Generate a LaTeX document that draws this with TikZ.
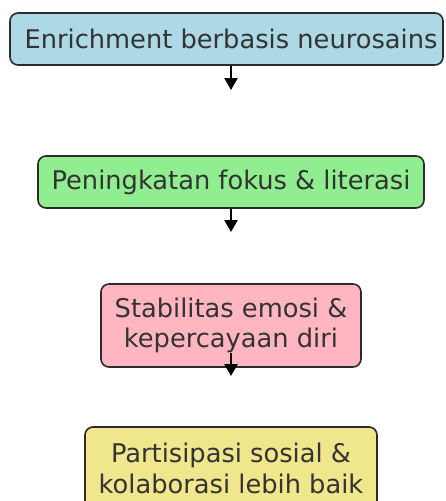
\documentclass[tikz,border=0pt]{standalone}
\usepackage{fontspec}
\setmainfont{DejaVu Sans}
\usetikzlibrary{arrows.meta}
\definecolor{bxblue}{HTML}{ADD8E6}
\definecolor{bxgreen}{HTML}{90EE90}
\definecolor{bxpink}{HTML}{FFB6C1}
\definecolor{bxkhaki}{HTML}{F0E68C}
\definecolor{edgegray}{HTML}{2B2B2B}
\definecolor{txtgray}{HTML}{333333}
\tikzset{
  flowbox/.style={draw=edgegray, line width=1.6pt, rounded corners=8pt,
    text=txtgray, align=center, inner sep=0pt,
    font=\fontsize{25.7pt}{30.5pt}\selectfont},
  arr/.style={-{Triangle[width=13pt,length=12pt]}, line width=2.4pt, black}
}
\begin{document}
\begin{tikzpicture}[x=1pt,y=1pt]
\useasboundingbox (0,0) rectangle (445,-501);
\node[flowbox, fill=bxblue, minimum width=433pt, minimum height=52pt] (b1) at (226.5,-39) {\hspace*{9pt}Enrichment berbasis neurosains};
\node[flowbox, fill=bxgreen, minimum width=386pt, minimum height=52pt] (b2) at (231,-182) {Peningkatan fokus \& literasi};
\node[flowbox, fill=bxpink, minimum width=260pt, minimum height=83pt] (b3) at (231,-325.5) {Stabilitas emosi \&\\kepercayaan diri};
\node[flowbox, fill=bxkhaki, minimum width=292pt, minimum height=83pt] (b4) at (231,-468.5) {Partisipasi sosial \&\\kolaborasi lebih baik};
\coordinate (e1) at (231,-90);
\coordinate (e2) at (231,-232);
\coordinate (e3) at (231,-376);
\draw[arr] (b2 |- b1.south) -- (e1);
\draw[arr] (b2.south) -- (e2);
\draw[arr] ([yshift=15pt]b3.south) -- (e3);
\end{tikzpicture}
\end{document}
